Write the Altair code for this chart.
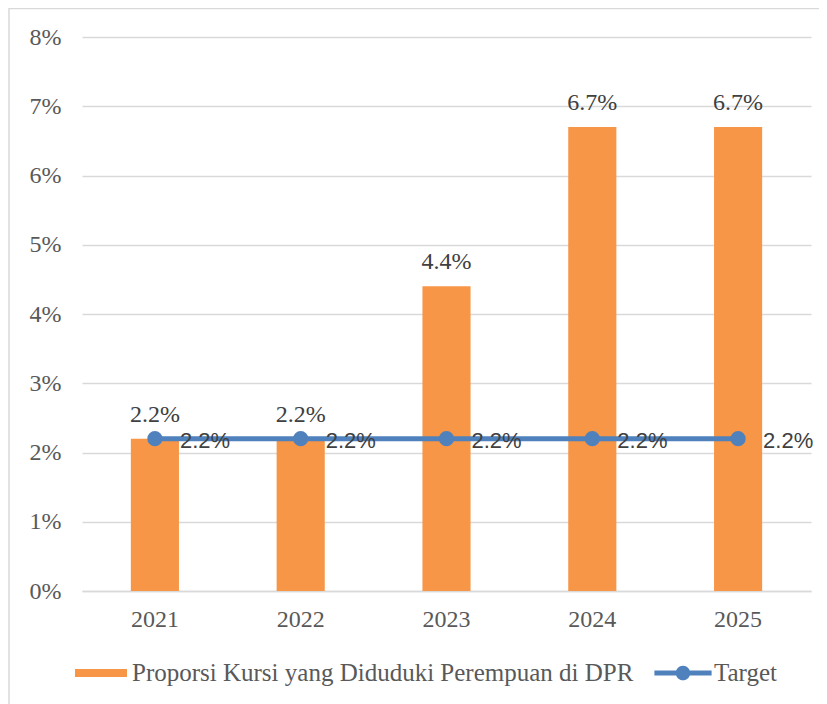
import altair as alt
import pandas as pd

years = ["2021", "2022", "2023", "2024", "2025"]
proporsi = [2.2, 2.2, 4.4, 6.7, 6.7]
target = [2.2, 2.2, 2.2, 2.2, 2.2]
bar_name = "Proporsi Kursi yang Diduduki Perempuan di DPR"
line_name = "Target"

bar_df = pd.DataFrame({
    "year": years,
    "value": [v / 100 for v in proporsi],
    "label": [f"{v:.1f}%" for v in proporsi],
    "series": [bar_name] * len(years),
})
line_df = pd.DataFrame({
    "year": years,
    "value": [v / 100 for v in target],
    "label": [f"{v:.1f}%" for v in target],
    "series": [line_name] * len(years),
})

ORANGE = "#F79646"
BLUE = "#4F81BD"
SERIF = "Liberation Serif, serif"
SANS = "Liberation Sans, Arial, sans-serif"

bar_shape = "M-1,-0.15 H1 V0.15 H-1 Z"
line_shape = ("M-1.1,-0.1 H1.1 V0.1 H-1.1 Z "
              "M0.28,0 A0.28,0.28 0 1,1 -0.28,0 A0.28,0.28 0 1,1 0.28,0 Z")

series_domain = [bar_name, line_name]
color_scale = alt.Scale(domain=series_domain, range=[ORANGE, BLUE])
shape_scale = alt.Scale(domain=series_domain, range=[bar_shape, line_shape])

xs = alt.X("year:N", sort=years, title=None,
           scale=alt.Scale(paddingInner=0.67, paddingOuter=0.335),
           axis=alt.Axis(labelAngle=0, labelFont=SERIF, labelFontSize=24,
                         labelColor="#595959", labelPadding=16, ticks=False,
                         domain=True, domainColor="#d9d9d9", domainWidth=1.5))
ys = alt.Y("value:Q", scale=alt.Scale(domain=[0, 0.08]), title=None,
           axis=alt.Axis(format=".0%", values=[0, 0.01, 0.02, 0.03, 0.04, 0.05, 0.06, 0.07, 0.08],
                         labelFont=SERIF, labelFontSize=24, labelColor="#595959",
                         labelPadding=21, ticks=False, domain=False,
                         gridColor="#d9d9d9", gridWidth=1.5))
color = alt.Color("series:N", scale=color_scale, title=None)

bars = alt.Chart(bar_df).mark_bar().encode(x=xs, y=ys, color=color)

bar_text = alt.Chart(bar_df).mark_text(font=SERIF, fontSize=24, color="#404040",
                                       baseline="alphabetic", dy=-17).encode(
    x=xs, y=ys, text="label:N")

line = alt.Chart(line_df).mark_line(strokeWidth=5).encode(x=xs, y=ys, color=color)

points = alt.Chart(line_df).mark_circle(size=230, opacity=1).encode(x=xs, y=ys, color=color)

line_text = alt.Chart(line_df).mark_text(font=SANS, fontSize=22, color="#404040",
                                         align="left", baseline="middle", dx=25, dy=2).encode(
    x=xs, y=ys, text="label:N")

legend_df = pd.DataFrame({"series": series_domain})
legend_layer = alt.Chart(legend_df).mark_point(opacity=0, filled=True).encode(
    x=alt.value(0),
    y=alt.value(0),
    color=color,
    shape=alt.Shape("series:N", scale=shape_scale, title=None),
)

border = alt.Chart(legend_df.head(1)).mark_rect(
    fill=None, stroke="#d9d9d9", strokeWidth=1.5).encode(
    x=alt.value(-73), x2=alt.value(760), y=alt.value(-28.5), y2=alt.value(700)
)

chart = alt.layer(border, bars, bar_text, line, points, line_text, legend_layer).properties(
    width=729, height=554,
    autosize=alt.AutoSizeParams(type="none"),
    padding={"left": 74, "top": 29, "right": 8, "bottom": 113},
).configure_view(stroke=None).configure_legend(
    orient="none", legendX=-7, legendY=610,
    direction="horizontal", symbolSize=2704,
    symbolOpacity=1, symbolStrokeWidth=0,
    labelFont=SERIF, labelFontSize=25,
    labelColor="#595959", labelOffset=5,
    columnPadding=20, labelLimit=700,
)

chart.save("out.html", embed_options={"renderer": "svg", "actions": False})
